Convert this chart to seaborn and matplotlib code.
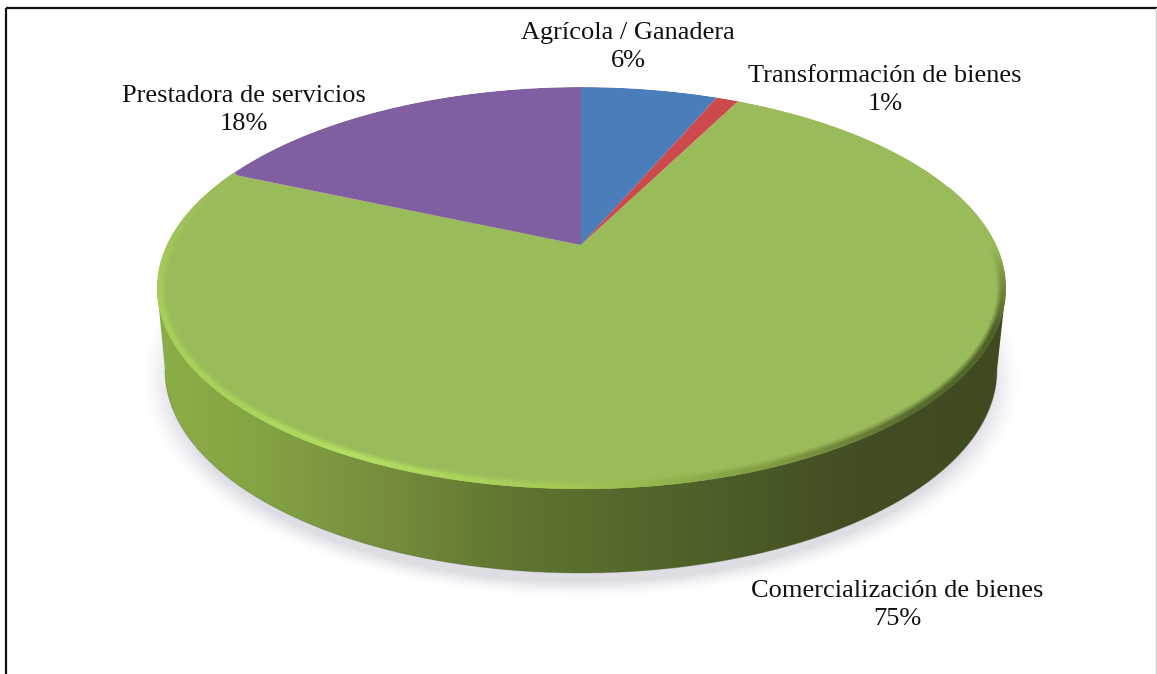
import numpy as np
import matplotlib
matplotlib.use("Agg")
import matplotlib.pyplot as plt
import seaborn as sns
from matplotlib.collections import LineCollection
from matplotlib.colors import LinearSegmentedColormap
from matplotlib.patches import Ellipse, PathPatch
from matplotlib.path import Path
from matplotlib.transforms import Affine2D

categories = ["Agrícola / Ganadera", "Transformación de bienes",
              "Comercialización de bienes", "Prestadora de servicios"]
values = [6, 1, 75, 18]
slice_colors = ["#4b7dbb", "#cd4a4c", "#9abb59", "#7f5f9f"]

sns.set_theme(style="white")
plt.rcParams["font.family"] = ["Liberation Serif", "DejaVu Serif"]
palette = sns.color_palette(slice_colors)

W, H = 1157, 674
fig = plt.figure(figsize=(W / 100, H / 100), dpi=100, facecolor="white")
ax = fig.add_axes([0, 0, 1, 1])

# perspective geometry in pixels
apex = (581, 245)
squash = 0.43
top = dict(cx=581.5, cy=288, a=424.5, b=201)
bot = dict(cx=581, cy=370, a=416, b=203)


def arc(e, t0, t1, n=300):
    t = np.radians(np.linspace(t0, t1, n))
    return np.column_stack([e["cx"] + e["a"] * np.cos(t), e["cy"] + e["b"] * np.sin(t)])


# pie drawn from the data, seen through the perspective squash
wedges, _ = ax.pie(values, colors=palette, startangle=90, counterclock=False, radius=1000,
                   wedgeprops=dict(linewidth=0))
ax.set_aspect("auto")
ax.set_xlim(0, W)
ax.set_ylim(H, 0)
ax.set_xticks([])
ax.set_yticks([])
ax.axis("off")
clip_top = Ellipse((top["cx"], top["cy"]), 2 * top["a"], 2 * top["b"], transform=ax.transData)
persp = Affine2D().scale(1, -squash).translate(*apex) + ax.transData
for w in wedges:
    w.set_transform(persp)
    w.set_clip_on(True)
    w.set_clip_path(clip_top)
    w.set_zorder(3)

# soft floor shadow
yy, xx = np.mgrid[0:H, 0:W]
r = np.hypot((xx - 581) / 428, (yy - 379) / 212)
alpha = np.clip((1.03 - r) / 0.075, 0, 1) ** 1.6 * 0.55
shadow = np.zeros((H, W, 4))
shadow[..., :3] = (0.76, 0.76, 0.81)
shadow[..., 3] = alpha
ax.imshow(shadow, extent=(0, W, H, 0), zorder=1, aspect="auto", interpolation="bilinear")

# extruded side with its horizontal shading
side_cmap = LinearSegmentedColormap.from_list("side", [
    (0.00, "#8cae47"), (0.13, "#83a243"), (0.28, "#748c3c"), (0.42, "#5f7530"),
    (0.55, "#56692c"), (0.70, "#4a5a27"), (0.82, "#424e23"), (1.00, "#3f4a21")])
grad = np.linspace(0, 1, 512)[None, :]
im = ax.imshow(grad, extent=(157, 1006, H, 0), cmap=side_cmap, zorder=2, aspect="auto")
outline = np.vstack([[(top["cx"] - top["a"], top["cy"])], arc(bot, 180, 0),
                     [(top["cx"] + top["a"], top["cy"])], [(top["cx"] - top["a"], top["cy"])]])
side = PathPatch(Path(outline), transform=ax.transData, facecolor="none", edgecolor="none")
ax.add_patch(side)
im.set_clip_path(side)
ax.plot(*arc(bot, 180, 0).T, color="#4d5f28", lw=0.7, alpha=0.35, zorder=2.5)

# bevel on the rim of the top face, kept inside the face
inset = dict(top, a=top["a"] - 2.5, b=top["b"] - 2)
rim_pts = arc(inset, 215, -30, 500)
segs = np.stack([rim_pts[:-1], rim_pts[1:]], axis=1)
ang = np.linspace(215, -30, 499)
glow = LinearSegmentedColormap.from_list("rim", [
    (0.00, "#9abb59"), (0.14, "#a6cf5a"), (0.28, "#a9d55b"), (0.38, "#b4e163"), (0.50, "#a4c957"),
    (0.62, "#7f9b42"), (0.72, "#56692c"), (0.83, "#4a5a27"), (0.89, "#76903c"), (0.93, "#9abb59"),
    (1.00, "#9abb59")])
tone = (215 - ang) / 245
for lw, a, z in [(9, 0.3, 3.8), (6, 0.5, 3.9), (3.5, 0.9, 4)]:
    rim = LineCollection(segs, colors=glow(tone), linewidths=lw, alpha=a, zorder=z,
                         transform=ax.transData)
    ax.add_collection(rim)
    rim.set_clip_path(clip_top)

# anti-aliased outer edge of the upper half
up = arc(dict(top, a=top["a"] + 1.2, b=top["b"] + 1.2), 180, 360)
ax.plot(*up.T, color="white", lw=1.8, zorder=3.5, solid_capstyle="butt")

# labels
label_pos = [(628, 47), (885, 90), (897, 605), (244, 110)]
for name, val, (x, y) in zip(categories, values, label_pos):
    ax.text(x, y, f"{name}\n{val}%", ha="center", va="center", fontsize=19,
            color="#111111", linespacing=1.38, zorder=6)

# frame (open at the bottom, as in the crop)
ax.plot([5.5, 5.5], [H, 7.5], color="#111111", lw=1.6, zorder=7, solid_capstyle="butt")
ax.plot([5.5, 1157], [7.5, 7.5], color="#111111", lw=1.6, zorder=7, solid_capstyle="butt")
ax.plot([1156, 1156], [7.5, H], color="#c8c8c8", lw=1.0, zorder=7)

ax.set_xlim(0, W)
ax.set_ylim(H, 0)
fig.savefig("out.png", dpi=100, facecolor="white")
